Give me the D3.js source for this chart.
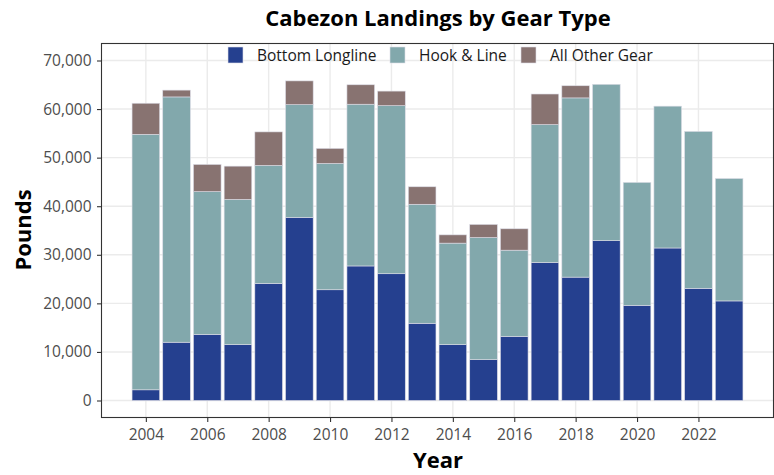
<!DOCTYPE html>
<html>
<head>
<meta charset="utf-8">
<script src="https://cdn.jsdelivr.net/npm/d3@7"></script>
<style>
  html, body { margin: 0; padding: 0; background: #fff; }
  svg { display: block; font-family: "Open Sans", "Noto Sans", sans-serif; }
</style>
</head>
<body>
<svg id="chart" width="774" height="475"></svg>
<script>
// Cabezon landings (pounds) by gear type, 2004–2023
const years = [2004, 2005, 2006, 2007, 2008, 2009, 2010, 2011, 2012, 2013,
               2014, 2015, 2016, 2017, 2018, 2019, 2020, 2021, 2022, 2023];
const bottomLongline = [2200, 12000, 13600, 11500, 24100, 37700, 22800, 27700, 26100, 15900,
                        11500, 8400, 13200, 28400, 25400, 32900, 19600, 31400, 23100, 20500];
const hookAndLine = [52600, 50500, 29400, 29900, 24300, 23200, 26000, 33300, 34600, 24500,
                     20900, 25150, 17750, 28400, 36900, 32200, 25300, 29200, 32300, 25200];
const allOtherGear = [6400, 1400, 5600, 6850, 6900, 4900, 3100, 4000, 3000, 3600,
                      1700, 2700, 4400, 6300, 2500, 0, 0, 0, 0, 0];

const seriesNames = ["Bottom Longline", "Hook & Line", "All Other Gear"];
const seriesColors = ["#25408f", "#82a8ac", "#887371"];
const xTicks = [2004, 2006, 2008, 2010, 2012, 2014, 2016, 2018, 2020, 2022];
const yTicks = [0, 10000, 20000, 30000, 40000, 50000, 60000, 70000];

const rows = years.map((y, i) => ({
  year: y,
  "Bottom Longline": bottomLongline[i],
  "Hook & Line": hookAndLine[i],
  "All Other Gear": allOtherGear[i]
}));

const svg = d3.select("#chart");
const panel = { left: 101.5, right: 773.5, top: 43.5, bottom: 417.5 };

const barWidth = 0.9;
const x = d3.scaleLinear()
  .domain([2003.55 - 0.995, 2023.45 + 0.995])
  .range([panel.left, panel.right]);
const y = d3.scaleLinear()
  .domain([-3500, 73500])
  .range([panel.bottom, panel.top]);

const color = d3.scaleOrdinal().domain(seriesNames).range(seriesColors);

// Gridlines
const grid = svg.append("g");
grid.selectAll("line.gy").data(yTicks).join("line")
  .attr("x1", panel.left).attr("x2", panel.right)
  .attr("y1", d => y(d)).attr("y2", d => y(d))
  .attr("stroke", "#ebebeb").attr("stroke-width", 1.4);
grid.selectAll("line.gx").data(xTicks).join("line")
  .attr("y1", panel.top).attr("y2", panel.bottom)
  .attr("x1", d => x(d)).attr("x2", d => x(d))
  .attr("stroke", "#ebebeb").attr("stroke-width", 1.4);

// Stacked bars
const stack = d3.stack().keys(seriesNames);
const layers = stack(rows);
const bw = x(barWidth) - x(0);

svg.append("g").selectAll("g").data(layers).join("g")
  .attr("fill", d => color(d.key))
  .selectAll("rect").data(d => d.filter(s => s[1] - s[0] > 0)).join("rect")
  .attr("x", d => x(d.data.year) - bw / 2)
  .attr("width", bw)
  .attr("y", d => y(d[1]))
  .attr("height", d => y(d[0]) - y(d[1]))
  .attr("stroke", "#dcdce6")
  .attr("stroke-width", 0.6);

// Panel border
svg.append("rect")
  .attr("x", panel.left).attr("y", panel.top)
  .attr("width", panel.right - panel.left)
  .attr("height", panel.bottom - panel.top)
  .attr("fill", "none").attr("stroke", "#333").attr("stroke-width", 1.1);

// Axes
const fmt = d3.format(",");
const yAxis = svg.append("g")
  .attr("transform", `translate(${panel.left},0)`)
  .call(d3.axisLeft(y).tickValues(yTicks).tickFormat(fmt).tickSize(4.5).tickPadding(5.5));
const xAxis = svg.append("g")
  .attr("transform", `translate(0,${panel.bottom})`)
  .call(d3.axisBottom(x).tickValues(xTicks).tickFormat(d3.format("d")).tickSize(4.5).tickPadding(7));
[yAxis, xAxis].forEach(a => {
  a.select(".domain").remove();
  a.selectAll(".tick line").attr("stroke", "#333").attr("stroke-width", 1.1);
  a.selectAll(".tick text")
    .attr("fill", "#4d4d4d")
    .style("font-size", "15.5px")
    .style("font-family", "'Open Sans', sans-serif");
});

// Titles
svg.append("text")
  .attr("x", 438).attr("y", 26)
  .attr("text-anchor", "middle")
  .style("font-size", "22px").style("font-weight", "bold")
  .attr("fill", "#000")
  .text("Cabezon Landings by Gear Type");

svg.append("text")
  .attr("x", 438).attr("y", 468)
  .attr("text-anchor", "middle")
  .style("font-size", "22px").style("font-weight", "bold")
  .attr("fill", "#000")
  .text("Year");

svg.append("text")
  .attr("transform", "translate(31,230) rotate(-90)")
  .attr("text-anchor", "middle")
  .style("font-size", "22px").style("font-weight", "bold")
  .attr("fill", "#000")
  .text("Pounds");

// Legend
const legendX = [228, 390, 521];
const legend = svg.append("g");
const items = legend.selectAll("g").data(seriesNames).join("g")
  .attr("transform", (d, i) => `translate(${legendX[i]},47)`);
items.append("rect")
  .attr("width", 15).attr("height", 16)
  .attr("fill", d => color(d))
  .attr("stroke", "#dcdce6").attr("stroke-width", 0.6);
items.append("text")
  .attr("x", 29).attr("y", 13.5)
  .style("font-size", "15.5px")
  .attr("fill", "#1a1a1a")
  .text(d => d);
</script>
</body>
</html>
